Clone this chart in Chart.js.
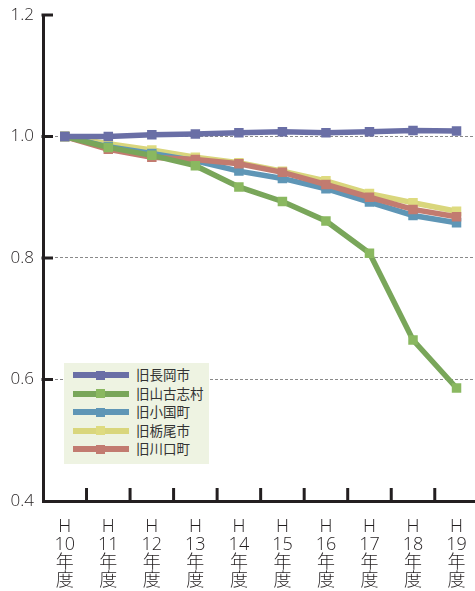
<!DOCTYPE html>
<html><head><meta charset="utf-8">
<script src="https://cdn.jsdelivr.net/npm/chart.js@4.4.0/dist/chart.umd.min.js"></script>
<style>
html,body{margin:0;padding:0;background:#fff;overflow:hidden;width:475px;height:591px;}
#wrap{position:relative;width:485px;height:591px;}
#legend{position:absolute;left:64px;top:363px;width:145px;height:101px;background:#eef3e2;font-family:'Open Sans','Noto Sans CJK JP',sans-serif;font-size:13.5px;color:#333;}
.row{position:absolute;left:0;height:18px;width:145px;}
.ln{position:absolute;left:9px;width:56px;height:6px;top:6px;}
.mk{position:absolute;left:32px;width:9px;height:9px;top:4.5px;}
.tx{position:absolute;left:72px;top:0;line-height:18px;white-space:nowrap;}
</style></head>
<body><div id="wrap"><canvas id="c" width="485" height="591"></canvas><div id="legend"></div></div>
<script>
const categories = ['H10年度','H11年度','H12年度','H13年度','H14年度','H15年度','H16年度','H17年度','H18年度','H19年度'];
const seriesNames = ['旧長岡市','旧山古志村','旧小国町','旧栃尾市','旧川口町'];
const nagaoka   = [1.000,1.000,1.003,1.004,1.006,1.008,1.006,1.008,1.010,1.009];
const yamakoshi = [1.000,0.982,0.969,0.952,0.917,0.893,0.861,0.808,0.665,0.586];
const oguni     = [1.000,0.983,0.972,0.960,0.943,0.931,0.914,0.892,0.870,0.858];
const tochio    = [1.000,0.988,0.978,0.966,0.957,0.943,0.927,0.906,0.891,0.877];
const kawaguchi = [1.000,0.979,0.966,0.962,0.955,0.941,0.921,0.900,0.880,0.868];
const yTicks = [0.4,0.6,0.8,1.0,1.2];

const lineColors  = ['#6a6fa6','#79a65a','#5f96b6','#d9d67c','#c27b70'];
const pointColors = ['#6a6fa6','#8ab860','#5f96b6','#dedb80','#c27b70'];
const seriesValues = [nagaoka, yamakoshi, oguni, tochio, kawaguchi];
// draw order: earlier in list = drawn on top
const drawOrder = [0, 1, 4, 2, 3];

const font = "'Open Sans','Noto Sans CJK JP',sans-serif";
const ink = '#231f20';

const datasets = drawOrder.map(i => ({
  label: seriesNames[i],
  data: seriesValues[i],
  borderColor: lineColors[i],
  backgroundColor: pointColors[i],
  pointBackgroundColor: pointColors[i],
  pointBorderWidth: 0,
  pointStyle: 'rect',
  pointRadius: 6.7,
  pointHoverRadius: 6.7,
  borderWidth: 5.5,
  tension: 0,
  fill: false
}));

const inwardTicks = {
  id: 'inwardTicks',
  afterDraw(chart) {
    const {ctx, chartArea: a, scales: {x, y}} = chart;
    ctx.save();
    ctx.strokeStyle = ink; ctx.lineWidth = 3; ctx.setLineDash([]);
    for (let i = 1; i < categories.length; i++) {
      const px = (x.getPixelForValue(i - 1) + x.getPixelForValue(i)) / 2;
      ctx.beginPath(); ctx.moveTo(px, a.bottom); ctx.lineTo(px, a.bottom - 13); ctx.stroke();
    }
    y.ticks.forEach(t => {
      if (t.value <= y.min + 1e-9) return;
      const py = y.getPixelForValue(t.value);
      ctx.beginPath(); ctx.moveTo(a.left - 1.5, py); ctx.lineTo(a.left + 10, py); ctx.stroke();
    });
    ctx.restore();
  }
};

new Chart(document.getElementById('c'), {
  type: 'line',
  data: { labels: categories, datasets },
  options: {
    responsive: false,
    animation: false,
    devicePixelRatio: 1,
    layout: { padding: { top: 15, right: 1, left: 0, bottom: 0 } },
    plugins: { legend: { display: false }, tooltip: { enabled: false } },
    scales: {
      x: {
        type: 'category',
        offset: true,
        afterFit: s => { s.height = 90; s.paddingLeft = 0; s.paddingRight = 0; },
        grid: { offset: true, drawOnChartArea: false, drawTicks: false },
        border: { display: true, color: ink, width: 3 },
        ticks: {
          padding: 17,
          color: ink,
          maxRotation: 0, autoSkip: false,
          font: { family: font, size: 18, weight: 300, lineHeight: '18px' },
          callback: (v, i) => { const s = categories[i]; return ['H', s.slice(1, 3), s[3], s[4]]; }
        }
      },
      y: {
        min: 0.4, max: 1.2,
        afterFit: s => { s.width = 43; s.paddingTop = 0; s.paddingBottom = 0; },
        afterBuildTicks: s => { s.ticks = yTicks.map(v => ({ value: v })); },
        grid: {
          drawTicks: false,
          lineWidth: 1,
          color: c => (c.tick && c.tick.value > 0.41 && c.tick.value < 1.19) ? '#8a8a8a' : 'rgba(0,0,0,0)'
        },
        border: { display: true, color: ink, width: 3, dash: [3, 2] },
        ticks: {
          padding: 9,
          color: ink,
          font: { family: font, size: 17, weight: 300 },
          callback: v => Number(v).toFixed(1)
        }
      }
    }
  },
  plugins: [inwardTicks]
});

// HTML legend built from the series arrays
const legend = document.getElementById('legend');
seriesNames.forEach((name, i) => {
  const row = document.createElement('div');
  row.className = 'row';
  row.style.top = (3 + i * 18.6) + 'px';
  row.innerHTML = '<div class="ln" style="background:' + lineColors[i] + '"></div>' +
                  '<div class="mk" style="background:' + pointColors[i] + '"></div>' +
                  '<div class="tx">' + name + '</div>';
  legend.appendChild(row);
});
</script>
</body></html>
